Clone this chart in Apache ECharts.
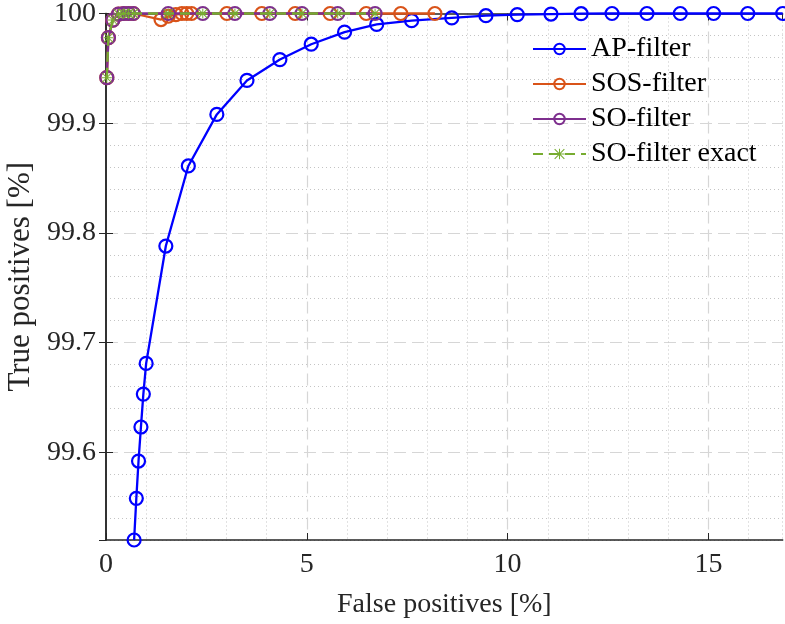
<!DOCTYPE html>
<html>
<head>
<meta charset="utf-8">
<title>ROC comparison</title>
<script src="https://cdn.jsdelivr.net/npm/echarts@6/dist/echarts.min.js"></script>
<style>
  html, body { margin: 0; padding: 0; background: #ffffff; }
  #chart { width: 785px; height: 624px; }
</style>
</head>
<body>
<div id="chart"></div>
<script>
// False-positive / true-positive rates (%) for each filter variant
const apX = [0.70, 0.755, 0.81, 0.87, 0.93, 1.00, 1.49, 2.05, 2.76, 3.51, 4.33, 5.11, 5.94,
             6.74, 7.61, 8.61, 9.46, 10.24, 11.08, 11.83, 12.60, 13.47, 14.30, 15.13, 15.98, 16.85];
const apY = [99.520, 99.558, 99.592, 99.623, 99.653, 99.681, 99.788, 99.861, 99.908, 99.939, 99.958, 99.972, 99.983,
             99.990, 99.9935, 99.996, 99.998, 99.999, 99.9995, 99.9998, 100, 100, 100, 100, 100, 100];

const sosX = [0.02, 0.06, 0.17, 0.31, 0.44, 0.56, 0.68, 1.37, 1.55, 1.74, 1.89, 2.01, 2.13,
              3.01, 3.88, 4.71, 5.58, 6.48, 7.34, 8.19];
const sosY = [99.9415, 99.978, 99.994, 99.9995, 100, 100, 100, 99.9945, 99.9975, 99.999, 100, 100, 100,
              100, 100, 100, 100, 100, 100, 100];

const soX = [0.02, 0.06, 0.17, 0.31, 0.44, 0.56, 0.68, 1.55, 2.41, 3.21, 4.08, 4.88, 5.77, 6.70];
const soY = [99.9415, 99.978, 99.994, 99.9995, 100, 100, 100, 100, 100, 100, 100, 100, 100, 100];

const exactX = [0.02, 0.06, 0.17, 0.31, 0.44, 0.56, 0.68, 1.55, 2.41, 3.21, 4.08, 4.88, 5.77, 6.70];
const exactY = [99.9415, 99.978, 99.994, 99.9995, 100, 100, 100, 100, 100, 100, 100, 100, 100, 100];

const seriesNames = ['AP-filter', 'SOS-filter', 'SO-filter', 'SO-filter exact'];
const xAxisTitle = 'False positives [%]';
const yAxisTitle = 'True positives [%]';

const X_MIN = 0, X_MAX = 16.85;
const Y_MIN = 99.52, Y_MAX = 100;

const FONT = '"Liberation Serif", "Times New Roman", Times, serif';
const AXIS_COLOR = '#262626';
const MAJOR_GRID = '#d6d6d6';
const MINOR_GRID = '#c4c4c4';
const C_BLUE = '#0000ff', C_ORANGE = '#d95319', C_PURPLE = '#7e2f8e', C_GREEN = '#77ac30';

// eight-armed asterisk marker
const ASTERISK = 'path://M9,0L11,0L11,20L9,20Z M0,9L20,9L20,11L0,11Z ' +
                 'M0,1.4L1.4,0L20,18.6L18.6,20Z M18.6,0L20,1.4L1.4,20L0,18.6Z';

const zip = (xs, ys) => xs.map((x, i) => [x, ys[i]]);

const axisLine = { show: true, lineStyle: { color: AXIS_COLOR, width: 1.5 } };
const inTicks = { show: true, inside: true, length: 7, lineStyle: { color: AXIS_COLOR, width: 1 } };
const noShow = { show: false };
const labelFont = { color: AXIS_COLOR, fontFamily: FONT, fontSize: 28 };

// minor grid colours: every fifth line is skipped where a major line sits
const minorColorsX = ['rgba(0,0,0,0)', MINOR_GRID, MINOR_GRID, MINOR_GRID, MINOR_GRID];
const minorColorsY = [MINOR_GRID, MINOR_GRID, MINOR_GRID, MINOR_GRID, 'rgba(0,0,0,0)'];

const chart = echarts.init(document.getElementById('chart'), null, { renderer: 'canvas' });

const hollow = (c) => ({ color: 'rgba(0,0,0,0)', borderColor: c, borderWidth: 2.2 });

chart.setOption({
  animation: false,
  backgroundColor: '#ffffff',
  textStyle: { fontFamily: FONT },
  grid: { left: 106, right: 2.3, top: 13.5, bottom: 84, containLabel: false, outerBoundsMode: 'none' },
  legend: {
    orient: 'vertical',
    left: 532,
    top: 35,
    padding: 0,
    itemWidth: 53,
    itemHeight: 13,
    itemGap: 7,
    data: seriesNames,
    textStyle: { fontFamily: FONT, fontSize: 28, color: '#000000' },
    backgroundColor: 'transparent'
  },
  xAxis: [
    {
      type: 'value', min: X_MIN, max: X_MAX, interval: 5, position: 'bottom',
      axisLine, axisTick: inTicks,
      axisLabel: Object.assign({ margin: 11, showMaxLabel: false }, labelFont),
      splitLine: { show: true, showMinLine: false, showMaxLine: false,
                   lineStyle: { color: MAJOR_GRID, width: 1.2, type: [12, 6] } },
      name: xAxisTitle, nameLocation: 'middle', nameGap: 51,
      nameTextStyle: labelFont
    },
    {
      type: 'value', min: X_MIN, max: X_MAX, interval: 5, position: 'top',
      axisLine, axisTick: inTicks, axisLabel: noShow, splitLine: noShow
    },
    {
      type: 'value', min: X_MIN, max: X_MAX, interval: 1, position: 'bottom',
      axisLine: noShow, axisTick: noShow, axisLabel: noShow,
      splitLine: { show: true, showMinLine: true, showMaxLine: true,
                   lineStyle: { color: minorColorsX, width: 1, type: [1, 3] } }
    }
  ],
  yAxis: [
    {
      type: 'value', min: Y_MIN, max: Y_MAX, splitNumber: 5, position: 'left',
      axisLine, axisTick: inTicks,
      axisLabel: Object.assign({ margin: 10, showMinLabel: false }, labelFont),
      splitLine: { show: true, showMinLine: false, showMaxLine: false,
                   lineStyle: { color: MAJOR_GRID, width: 1.2, type: [12, 6] } },
      name: yAxisTitle, nameLocation: 'middle', nameGap: 54,
      nameTextStyle: { color: AXIS_COLOR, fontFamily: FONT, fontSize: 31 }
    },
    {
      type: 'value', min: Y_MIN, max: Y_MAX, splitNumber: 5, position: 'right',
      axisLine, axisTick: inTicks, axisLabel: noShow, splitLine: noShow
    },
    {
      type: 'value', min: Y_MIN, max: Y_MAX, interval: 0.02, position: 'left',
      axisLine: noShow, axisTick: noShow, axisLabel: noShow,
      splitLine: { show: true, showMinLine: true, showMaxLine: true,
                   lineStyle: { color: minorColorsY, width: 1, type: [1, 3] } }
    }
  ],
  series: [
    {
      name: seriesNames[0], type: 'line', xAxisIndex: 0, yAxisIndex: 0, clip: false,
      data: zip(apX, apY), symbol: 'circle', symbolSize: 13, color: C_BLUE,
      itemStyle: hollow(C_BLUE), lineStyle: { color: C_BLUE, width: 2.3 }, z: 3
    },
    {
      name: seriesNames[1], type: 'line', xAxisIndex: 0, yAxisIndex: 0, clip: false,
      data: zip(sosX, sosY), symbol: 'circle', symbolSize: 13, color: C_ORANGE,
      itemStyle: hollow(C_ORANGE), lineStyle: { color: C_ORANGE, width: 2.3 }, z: 4
    },
    {
      name: seriesNames[2], type: 'line', xAxisIndex: 0, yAxisIndex: 0, clip: false,
      data: zip(soX, soY), symbol: 'circle', symbolSize: 13, color: C_PURPLE,
      itemStyle: hollow(C_PURPLE), lineStyle: { color: C_PURPLE, width: 2.3 }, z: 5
    },
    {
      name: seriesNames[3], type: 'line', xAxisIndex: 0, yAxisIndex: 0, clip: false,
      data: zip(exactX, exactY), symbol: ASTERISK, symbolSize: 10, color: C_GREEN,
      itemStyle: { color: C_GREEN, borderWidth: 0 },
      lineStyle: { color: C_GREEN, width: 2.3, type: [10, 6] }, z: 6
    }
  ]
});
</script>
</body>
</html>
